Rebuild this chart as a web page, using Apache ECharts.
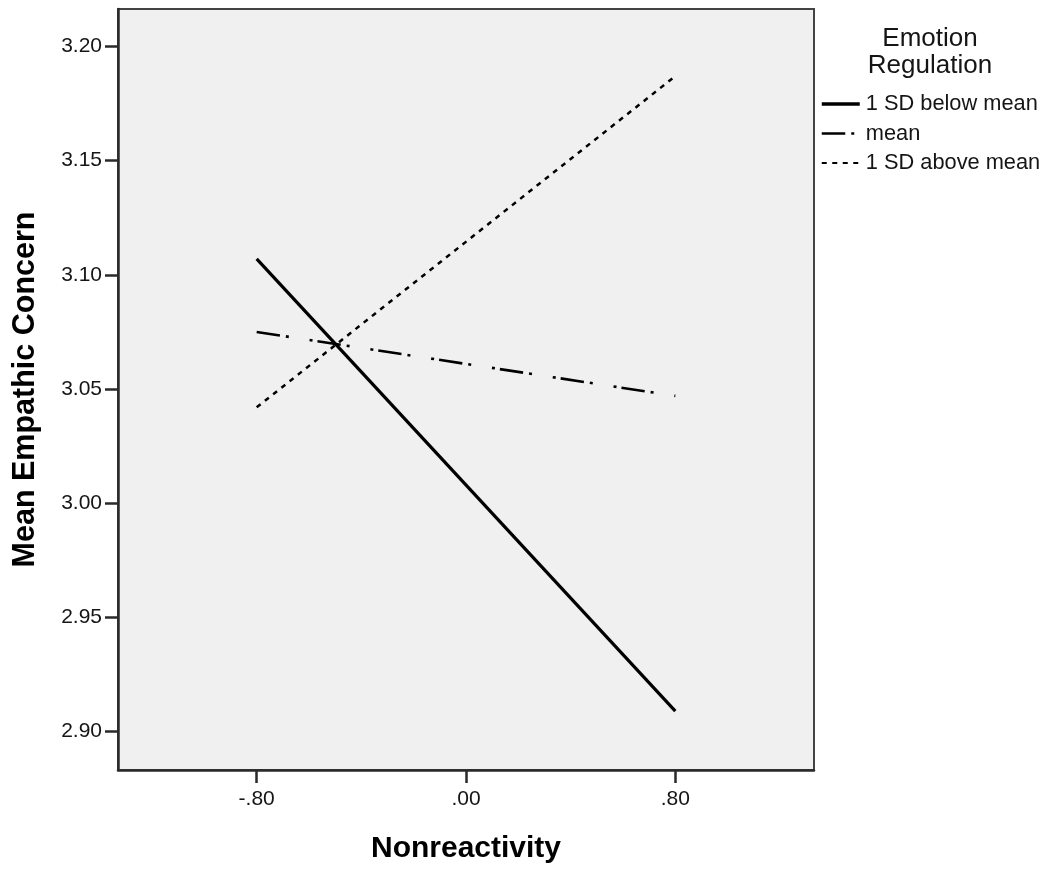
<!DOCTYPE html>
<html>
<head>
<meta charset="utf-8">
<title>Mean Empathic Concern by Nonreactivity</title>
<script src="https://cdn.jsdelivr.net/npm/echarts@6/dist/echarts.min.js"></script>
<style>
  html, body { margin: 0; padding: 0; background: #fff; }
  #chart { width: 1048px; height: 869px; }
</style>
</head>
<body>
<div id="chart"></div>
<script>
// Simple slopes of Nonreactivity at three levels of Emotion Regulation
const xValues = [-0.80, 0.80];
const belowMean = [3.107, 2.909];   // 1 SD below mean
const atMean = [3.075, 3.047];      // mean
const aboveMean = [3.042, 3.187];   // 1 SD above mean

const seriesNames = ['1 SD below mean', 'mean', '1 SD above mean'];

const xTicks = [-0.80, 0.00, 0.80];
const xTickLabels = ['-.80', '.00', '.80'];
const yTicks = [2.90, 2.95, 3.00, 3.05, 3.10, 3.15, 3.20];
const yTickLabels = ['2.90', '2.95', '3.00', '3.05', '3.10', '3.15', '3.20'];

const FONT = "'Liberation Sans', Arial, sans-serif";
const INK = '#151515';

function pairs(ys) {
  return xValues.map((x, i) => [x, ys[i]]);
}
function labelFor(ticks, labels, v) {
  const i = ticks.findIndex(t => Math.abs(t - v) < 1e-9);
  return i >= 0 ? labels[i] : '';
}

// line dash patterns
const dashDotDot = [23.5, 6, 3, 21, 3, 5];
const shortDash = [5, 5.5];

const chart = echarts.init(document.getElementById('chart'), null, { renderer: 'canvas' });

chart.setOption({
  animation: false,
  backgroundColor: '#ffffff',
  textStyle: { fontFamily: FONT },
  title: {
    text: 'Emotion\nRegulation',
    left: 930,
    top: 26,
    textAlign: 'center',
    padding: 0,
    textStyle: { fontFamily: FONT, fontSize: 26, fontWeight: 'normal', color: INK, lineHeight: 26.5 }
  },
  legend: {
    orient: 'vertical',
    left: 820,
    top: 93,
    padding: 0,
    itemWidth: 38,
    itemHeight: 14,
    itemGap: 7.5,
    itemStyle: { opacity: 0 },
    textStyle: { fontFamily: FONT, fontSize: 21.8, color: INK, lineHeight: 21, padding: [0, 0, 0, 1] },
    data: [
      { name: seriesNames[0], lineStyle: { width: 3.5 } },
      { name: seriesNames[1], lineStyle: { width: 2.5 } },
      { name: seriesNames[2], lineStyle: { width: 2 } }
    ]
  },
  grid: {
    left: 118,
    top: 9,
    width: 696,
    height: 761,
    show: true,
    backgroundColor: '#f0f0f0',
    borderColor: '#444',
    borderWidth: 2
  },
  xAxis: {
    type: 'value',
    min: -1.33,
    max: 1.33,
    name: 'Nonreactivity',
    nameLocation: 'middle',
    nameGap: 64,
    nameTextStyle: { fontFamily: FONT, fontSize: 30, fontWeight: 'bold', color: '#000' },
    axisLine: { show: true, onZero: false, lineStyle: { color: '#2a2a2a', width: 2.5 } },
    axisTick: { show: true, length: 13, lineStyle: { color: '#2a2a2a', width: 2.5 }, customValues: xTicks },
    axisLabel: {
      fontFamily: FONT, fontSize: 21, color: INK, margin: 19,
      customValues: xTicks,
      formatter: v => labelFor(xTicks, xTickLabels, v)
    },
    splitLine: { show: false }
  },
  yAxis: {
    type: 'value',
    min: 2.8832,
    max: 3.2164,
    name: 'Mean Empathic Concern',
    nameLocation: 'middle',
    nameGap: 77,
    nameTextStyle: { fontFamily: FONT, fontSize: 30.5, fontWeight: 'bold', color: '#000' },
    axisLine: { show: true, onZero: false, lineStyle: { color: '#2a2a2a', width: 2.5 } },
    axisTick: { show: true, length: 13, lineStyle: { color: '#2a2a2a', width: 2.5 }, customValues: yTicks },
    axisLabel: {
      fontFamily: FONT, fontSize: 21, color: INK, margin: 16,
      customValues: yTicks,
      formatter: v => labelFor(yTicks, yTickLabels, v)
    },
    splitLine: { show: false }
  },
  series: [
    {
      name: seriesNames[0],
      type: 'line',
      data: pairs(belowMean),
      symbol: 'none',
      lineStyle: { color: '#000', width: 3.2, type: 'solid' },
      itemStyle: { color: '#000' },
      z: 3
    },
    {
      name: seriesNames[1],
      type: 'line',
      data: pairs(atMean),
      symbol: 'none',
      lineStyle: { color: '#000', width: 2.6, type: dashDotDot },
      itemStyle: { color: '#000' },
      z: 2
    },
    {
      name: seriesNames[2],
      type: 'line',
      data: pairs(aboveMean),
      symbol: 'none',
      lineStyle: { color: '#000', width: 2.5, type: shortDash },
      itemStyle: { color: '#000' },
      z: 2
    }
  ]
});
</script>
</body>
</html>
